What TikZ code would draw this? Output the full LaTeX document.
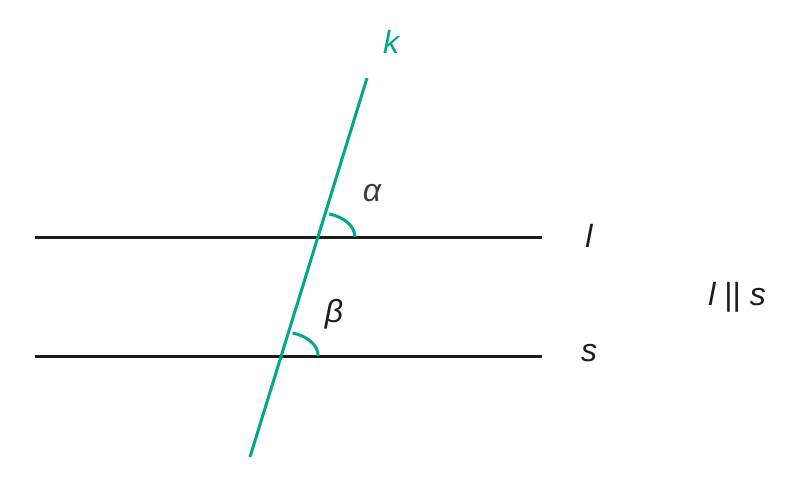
\documentclass[tikz,border=0pt]{standalone}
\usepackage{fontspec}
\setmainfont{Liberation Sans}
\usetikzlibrary{calc}
\definecolor{kgreen}{HTML}{00A88A}
\definecolor{ink}{HTML}{1C1C1C}
\definecolor{greyink}{HTML}{3C3C3C}
\tikzset{
  parline/.style={draw=ink, line width=3pt},
  transline/.style={draw=kgreen, line width=3pt},
  anglearc/.style={draw=kgreen, line width=3pt},
  lbl/.style={font=\fontsize{32}{36}\selectfont\itshape, text=ink, inner sep=0pt},
}
\begin{document}
\begin{tikzpicture}[x=1pt,y=-1pt]
\useasboundingbox (0,0) rectangle (800,488);
% parallel lines
\coordinate (lA) at (35,237);
\coordinate (lB) at (542,237);
\coordinate (sA) at (35,356);
\coordinate (sB) at (542,356);
\draw[parline] (lA) -- (lB);
\draw[parline] (sA) -- (sB);
% transversal k
\coordinate (kA) at (250,457);
\coordinate (kB) at (367,78);
\draw[transline] (kA) -- (kB);
% intersections
\coordinate (P1) at (317.9,237);
\coordinate (P2) at (281.2,356);
\draw[anglearc] ($(P1)+(37,0)$) arc[start angle=0, end angle=-72.2, x radius=37, y radius=24.2];
\draw[anglearc] ($(P2)+(37,0)$) arc[start angle=0, end angle=-72.2, x radius=37, y radius=24.2];
% labels
\node[lbl, text=kgreen] (k) at (391,42) {k};
\node[lbl, text=greyink] (alpha) at (372,193) {α};
\node[lbl] (beta) at (334,314) {β};
\node[lbl] (l) at (589,236) {l};
\node[lbl] (s) at (589,353) {s};
\node[lbl] (par) at (737,297) {l {\upshape||} s};
\end{tikzpicture}
\end{document}
